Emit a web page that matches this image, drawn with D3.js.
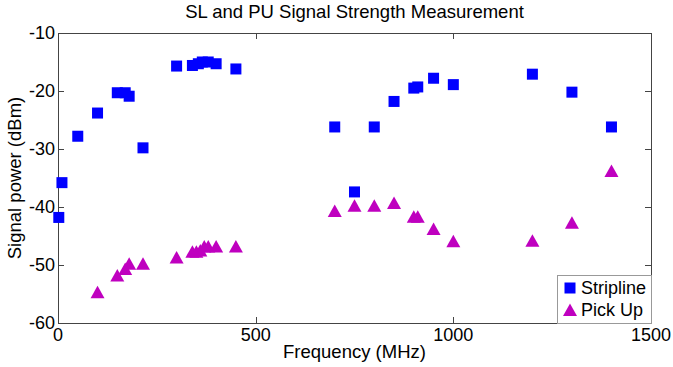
<!DOCTYPE html>
<html>
<head>
<meta charset="utf-8">
<script src="https://cdn.jsdelivr.net/npm/d3@7"></script>
<style>
  body { margin: 0; background: #fff; }
  text { font-family: Arial, "Liberation Sans", sans-serif; fill: #000; }
</style>
</head>
<body>
<div id="chart"></div>
<script>
// stripline measurements (MHz, dBm)
const slFreq = [2, 10, 50, 100, 150, 170, 180, 215, 300, 340, 355, 365, 380, 400, 450,
  700, 750, 800, 850, 900, 910, 950, 1000, 1200, 1300, 1400];
const slPower = [-41.8, -35.8, -27.8, -23.8, -20.3, -20.3, -20.9, -29.8, -15.7, -15.6, -15.3, -15, -15, -15.3, -16.2,
  -26.2, -37.4, -26.2, -21.8, -19.5, -19.3, -17.8, -18.9, -17.1, -20.2, -26.2];

// pick up measurements
const puFreq = [100, 150, 170, 180, 215, 300, 340, 350, 360, 370, 380, 400, 450,
  700, 750, 800, 850, 900, 910, 950, 1000, 1200, 1300, 1400];
const puPower = [-54.7, -51.8, -50.7, -49.8, -49.8, -48.7, -47.7, -47.7, -47.5, -46.8, -46.8, -46.8, -46.8,
  -40.7, -39.8, -39.8, -39.3, -41.7, -41.7, -43.8, -45.9, -45.8, -42.7, -33.8];

const xTicks = [0, 500, 1000, 1500];
const yTicks = [-60, -50, -40, -30, -20, -10];

const W = 673, H = 367;
const margin = { top: 33, right: 22, bottom: 44, left: 58 };

const svg = d3.select('#chart').append('svg')
  .attr('width', W).attr('height', H);

const x = d3.scaleLinear().domain([0, 1500]).range([margin.left, W - margin.right]);
const y = d3.scaleLinear().domain([-60, -10]).range([H - margin.bottom, margin.top]);

const x0 = x.range()[0], x1 = x.range()[1];
const y0 = y.range()[0], y1 = y.range()[1];

// axes box + inward ticks on all sides
const tickLen = 6;
const axisColor = '#444';
svg.append('rect')
  .attr('x', x0 + 0.5).attr('y', y1 + 0.5)
  .attr('width', x1 - x0).attr('height', y0 - y1)
  .attr('fill', 'none').attr('stroke', axisColor);

xTicks.forEach((t) => {
  const px = Math.round(x(t)) + 0.5;
  svg.append('line').attr('x1', px).attr('x2', px)
    .attr('y1', y0).attr('y2', y0 - tickLen).attr('stroke', axisColor);
  svg.append('line').attr('x1', px).attr('x2', px)
    .attr('y1', y1).attr('y2', y1 + tickLen).attr('stroke', axisColor);
  svg.append('text')
    .attr('x', x(t)).attr('y', y0 + 18)
    .attr('text-anchor', 'middle')
    .style('font-size', '18px')
    .text(t);
});

yTicks.forEach((t) => {
  const py = Math.round(y(t)) + 0.5;
  svg.append('line').attr('x1', x0).attr('x2', x0 + tickLen)
    .attr('y1', py).attr('y2', py).attr('stroke', axisColor);
  svg.append('line').attr('x1', x1).attr('x2', x1 - tickLen)
    .attr('y1', py).attr('y2', py).attr('stroke', axisColor);
  svg.append('text')
    .attr('x', x0 - 3).attr('y', y(t) + 6)
    .attr('text-anchor', 'end')
    .style('font-size', '18px')
    .text(t);
});

// title and labels
svg.append('text')
  .attr('x', (x0 + x1) / 2).attr('y', 18)
  .attr('text-anchor', 'middle')
  .style('font-size', '18.5px')
  .text('SL and PU Signal Strength Measurement');

svg.append('text')
  .attr('x', (x0 + x1) / 2).attr('y', 358)
  .attr('text-anchor', 'middle')
  .style('font-size', '18.5px')
  .text('Frequency (MHz)');

svg.append('text')
  .attr('transform', 'translate(21,' + (y0 + y1) / 2 + ') rotate(-90)')
  .attr('text-anchor', 'middle')
  .style('font-size', '18.5px')
  .text('Signal power (dBm)');

// markers
const blue = '#0000ff';
const magenta = '#bf00bf';
const sq = 11;
const triPath = 'M0,-6.5L7,6L-7,6Z';

svg.append('g').selectAll('rect')
  .data(slFreq.map((f, i) => [f, slPower[i]]))
  .enter().append('rect')
  .attr('x', (d) => x(d[0]) - sq / 2)
  .attr('y', (d) => y(d[1]) - sq / 2)
  .attr('width', sq).attr('height', sq)
  .attr('fill', blue);

svg.append('g').selectAll('path')
  .data(puFreq.map((f, i) => [f, puPower[i]]))
  .enter().append('path')
  .attr('transform', (d) => 'translate(' + x(d[0]) + ',' + y(d[1]) + ')')
  .attr('d', triPath)
  .attr('fill', magenta);

// legend
const lg = svg.append('g');
const lgX = 557, lgY = 275;
lg.append('rect')
  .attr('x', lgX + 0.5).attr('y', lgY + 0.5)
  .attr('width', x1 - lgX).attr('height', y0 - lgY)
  .attr('fill', '#fff').attr('stroke', '#999');
lg.append('rect')
  .attr('x', 570 - sq / 2).attr('y', 288 - sq / 2)
  .attr('width', sq).attr('height', sq).attr('fill', blue);
lg.append('path')
  .attr('transform', 'translate(570,310)')
  .attr('d', triPath).attr('fill', magenta);
lg.append('text').attr('x', 581).attr('y', 294)
  .style('font-size', '18px').text('Stripline');
lg.append('text').attr('x', 581).attr('y', 316)
  .style('font-size', '18px').text('Pick Up');
</script>
</body>
</html>
